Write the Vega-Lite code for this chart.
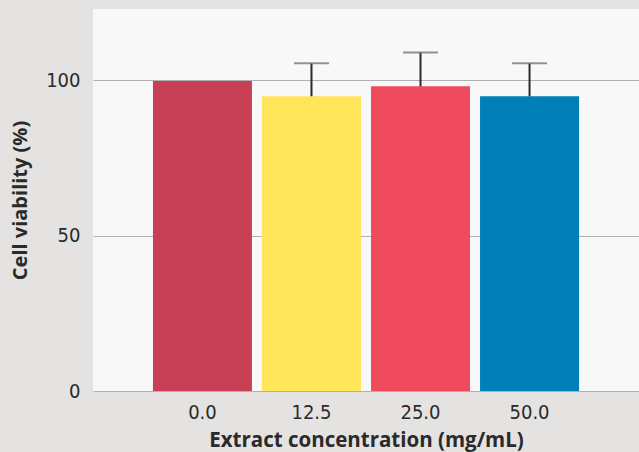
{
  "$schema": "https://vega.github.io/schema/vega-lite/v6.json",
  "width": 546,
  "height": 382,
  "autosize": "none",
  "padding": {"left": 93, "top": 9, "right": 0, "bottom": 61},
  "background": "#e4e3e1",
  "config": {
    "view": {"fill": "#f8f8f8", "stroke": null},
    "font": "DejaVu Sans Condensed, Roboto"
  },
  "data": {
    "values": [
      {"conc": "0.0", "viability": 99.8, "upper": null},
      {"conc": "12.5", "viability": 94.9, "upper": 105.5},
      {"conc": "25.0", "viability": 98.1, "upper": 109.0},
      {"conc": "50.0", "viability": 94.9, "upper": 105.5}
    ]
  },
  "encoding": {
    "x": {
      "field": "conc",
      "type": "nominal",
      "sort": null,
      "scale": {"paddingInner": 0.092, "paddingOuter": 0.55},
      "axis": {
        "title": "Extract concentration (mg/mL)",
        "titleFont": "Open Sans",
        "titleFontSize": 20.5,
        "titleFontWeight": "bold",
        "titleColor": "#2a2a2a",
        "titlePadding": 8,
        "labelAngle": 0,
        "labelFontSize": 20,
        "labelColor": "#2a2a2a",
        "labelPadding": 11,
        "ticks": false,
        "domain": false
      }
    }
  },
  "layer": [
    {
      "mark": {"type": "bar"},
      "encoding": {
        "y": {
          "field": "viability",
          "type": "quantitative",
          "scale": {"domain": [0, 123], "nice": false},
          "axis": {
            "title": "Cell viability (%)",
            "titleFont": "Open Sans",
            "titleFontSize": 20,
            "titleFontWeight": "bold",
            "titleColor": "#2a2a2a",
            "titlePadding": 15,
            "values": [0, 50, 100],
            "grid": true,
            "gridColor": "#b0b0b0",
            "gridWidth": 1,
            "domain": false,
            "ticks": false,
            "labelFontSize": 20,
            "labelColor": "#2a2a2a",
            "labelPadding": 13
          }
        },
        "color": {
          "field": "conc",
          "type": "nominal",
          "sort": null,
          "scale": {"domain": ["0.0", "12.5", "25.0", "50.0"], "range": ["#c84055", "#fee55a", "#f04a5f", "#007fb8"]},
          "legend": null
        }
      }
    },
    {
      "transform": [{"filter": "datum.upper != null"}],
      "mark": {"type": "rule", "color": "#2a2a2a", "strokeWidth": 2},
      "encoding": {
        "y": {"field": "viability", "type": "quantitative"},
        "y2": {"field": "upper"}
      }
    },
    {
      "transform": [{"filter": "datum.upper != null"}],
      "mark": {"type": "tick", "color": "#666666", "size": 35, "thickness": 2, "orient": "horizontal"},
      "encoding": {
        "y": {"field": "upper", "type": "quantitative"}
      }
    }
  ]
}
